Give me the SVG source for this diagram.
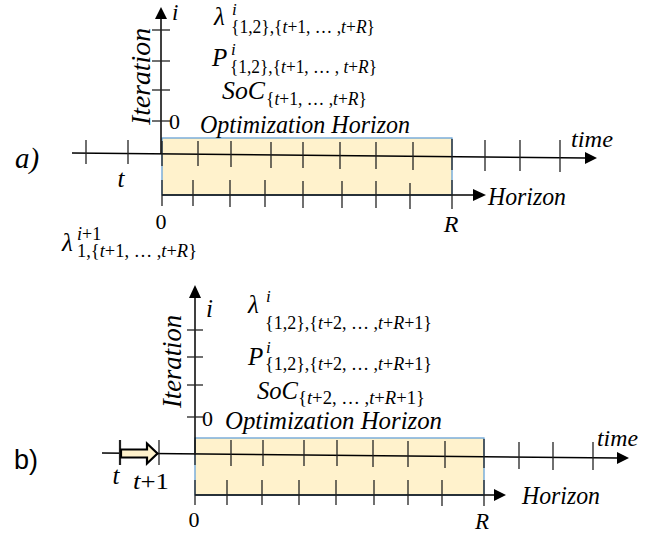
<svg xmlns="http://www.w3.org/2000/svg" width="664" height="535" viewBox="0 0 664 535">
<style>
text{font-family:"Liberation Serif","DejaVu Serif",serif;fill:#000}
.it{font-style:italic}
.big{font-size:25px}
.sub{font-size:18px}
.sup{font-size:17px;font-style:italic}
.lbl{font-size:26px;font-style:italic}
.num{font-size:22px}
.rect{fill:#FFF2CC;stroke:#5B9BD5;stroke-width:1.2}
.axis{stroke:#000;stroke-width:1.5;fill:none}
.tick{stroke:#222;stroke-width:1.3}
.head{fill:#000}
</style>

<!-- Panel a -->
<g id="panel-a">
  <rect id="horizon-box-a" class="rect" x="162" y="138" width="290" height="57"/>
  <g id="connectors-a">
    <line class="axis" x1="161" y1="18" x2="161" y2="154"/>
    <polygon class="head" points="161,7 155,19 167,19"/>
    <line class="axis" x1="72" y1="153" x2="586" y2="158"/>
    <polygon class="head" points="597,158 585,152 585,164"/>
    <line class="axis" x1="162" y1="195" x2="474" y2="195"/>
    <polygon class="head" points="486,195 473,189 473,201"/>
    <g class="tick">
      <line x1="152" y1="30" x2="170" y2="30"/>
      <line x1="152" y1="61" x2="170" y2="61"/>
      <line x1="152" y1="90" x2="170" y2="90"/>
      <line x1="152" y1="121" x2="170" y2="121"/>
      <line x1="86" y1="140" x2="86" y2="164"/>
      <line x1="128" y1="140" x2="128" y2="164"/>
      <line x1="162" y1="141" x2="162" y2="166"/>
      <line x1="198" y1="141" x2="198" y2="166"/>
      <line x1="231" y1="141" x2="231" y2="167"/>
      <line x1="271" y1="142" x2="271" y2="168"/>
      <line x1="303" y1="142" x2="303" y2="168"/>
      <line x1="340" y1="142" x2="340" y2="169"/>
      <line x1="376" y1="142" x2="376" y2="169"/>
      <line x1="413" y1="142" x2="413" y2="170"/>
      <line x1="452" y1="139" x2="452" y2="170"/>
      <line x1="485" y1="140" x2="485" y2="171"/>
      <line x1="520" y1="140" x2="520" y2="171"/>
      <line x1="560" y1="140" x2="560" y2="172"/>
      <line x1="162" y1="180" x2="162" y2="206"/>
      <line x1="193" y1="180" x2="193" y2="206"/>
      <line x1="230" y1="180" x2="230" y2="207"/>
      <line x1="265" y1="180" x2="265" y2="207"/>
      <line x1="303" y1="181" x2="303" y2="208"/>
      <line x1="342" y1="181" x2="342" y2="208"/>
      <line x1="376" y1="181" x2="376" y2="208"/>
      <line x1="410" y1="183" x2="410" y2="209"/>
      <line x1="452" y1="180" x2="452" y2="209"/>
    </g>
  </g>
  <text class="it" x="15" y="168" font-size="29">a)</text>
  <text class="it" x="172" y="20" font-size="23">i</text>
  <text class="num" x="169" y="129">0</text>
  <text class="it" transform="translate(150,125) rotate(-90)" font-size="27" textLength="97" lengthAdjust="spacingAndGlyphs">Iteration</text>
  <text class="lbl" x="200" y="133" textLength="210" lengthAdjust="spacingAndGlyphs">Optimization Horizon</text>
  <text class="it" x="571" y="147" font-size="24" textLength="42" lengthAdjust="spacingAndGlyphs">time</text>
  <text class="lbl" x="488" y="205" textLength="78" lengthAdjust="spacingAndGlyphs">Horizon</text>
  <text class="num" x="161" y="229" text-anchor="middle">0</text>
  <text class="it" x="451" y="232" text-anchor="middle" font-size="24">R</text>
  <text class="it big" x="121" y="187" text-anchor="middle">t</text>
  <!-- formulas -->
  <text class="it big" x="214" y="25">λ</text>
  <text class="sup" x="232" y="15">i</text>
  <text class="sub" x="231" y="33" textLength="144" lengthAdjust="spacingAndGlyphs">{1,2},{<tspan class="it">t</tspan>+1, … ,<tspan class="it">t</tspan>+<tspan class="it">R</tspan>}</text>
  <text class="it big" x="212" y="66">P</text>
  <text class="sup" x="231" y="55">i</text>
  <text class="sub" x="230" y="73" textLength="147" lengthAdjust="spacingAndGlyphs">{1,2},{<tspan class="it">t</tspan>+1, … , <tspan class="it">t</tspan>+<tspan class="it">R</tspan>}</text>
  <text class="it big" x="222" y="99" textLength="43" lengthAdjust="spacingAndGlyphs">SoC</text>
  <text class="sub" x="266" y="105" textLength="101" lengthAdjust="spacingAndGlyphs">{<tspan class="it">t</tspan>+1, … ,<tspan class="it">t</tspan>+<tspan class="it">R</tspan>}</text>
  <text class="it big" x="62" y="251">λ</text>
  <text class="sub" x="77" y="240"><tspan class="it">i</tspan>+1</text>
  <text class="sub" x="77" y="257" textLength="120" lengthAdjust="spacingAndGlyphs">1,{<tspan class="it">t</tspan>+1, … ,<tspan class="it">t</tspan>+<tspan class="it">R</tspan>}</text>
</g>

<!-- Panel b -->
<g id="panel-b">
  <rect id="horizon-box-b" class="rect" x="195" y="438" width="289" height="57"/>
  <g id="connectors-b">
    <line class="axis" x1="195" y1="297" x2="195" y2="455"/>
    <polygon class="head" points="195,285 189,298 201,298"/>
    <line class="axis" x1="102" y1="453" x2="618" y2="458"/>
    <polygon class="head" points="629,458 617,452 617,464"/>
    <line class="axis" x1="195" y1="495" x2="494" y2="495"/>
    <polygon class="head" points="506,495 494,489 494,501"/>
    <g class="tick">
      <line x1="187" y1="330" x2="203" y2="330"/>
      <line x1="187" y1="357" x2="203" y2="357"/>
      <line x1="187" y1="385" x2="203" y2="385"/>
      <line x1="187" y1="417" x2="203" y2="417"/>
      <line x1="120" y1="440" x2="120" y2="465" stroke-width="2.2"/>
      <line x1="159" y1="440" x2="159" y2="465"/>
      <line x1="195" y1="440" x2="195" y2="465"/>
      <line x1="231" y1="440" x2="231" y2="466"/>
      <line x1="263" y1="440" x2="263" y2="466"/>
      <line x1="304" y1="440" x2="304" y2="466"/>
      <line x1="337" y1="440" x2="337" y2="466"/>
      <line x1="373" y1="440" x2="373" y2="467"/>
      <line x1="408" y1="441" x2="408" y2="467"/>
      <line x1="445" y1="441" x2="445" y2="468"/>
      <line x1="484" y1="439" x2="484" y2="468"/>
      <line x1="519" y1="442" x2="519" y2="469"/>
      <line x1="553" y1="442" x2="553" y2="470"/>
      <line x1="593" y1="442" x2="593" y2="470"/>
      <line x1="195" y1="480" x2="195" y2="505"/>
      <line x1="227" y1="480" x2="227" y2="505"/>
      <line x1="262" y1="480" x2="262" y2="505"/>
      <line x1="299" y1="480" x2="299" y2="505"/>
      <line x1="336" y1="480" x2="336" y2="505"/>
      <line x1="374" y1="480" x2="374" y2="505"/>
      <line x1="408" y1="480" x2="408" y2="505"/>
      <line x1="442" y1="480" x2="442" y2="506"/>
      <line x1="484" y1="480" x2="484" y2="506"/>
    </g>
    <polygon id="shift-arrow" points="121,449.5 147,449.5 147,443.5 157.5,453.5 147,463.5 147,457.5 121,457.5" fill="#FFF2CC" stroke="#000" stroke-width="2.2" stroke-linejoin="miter"/>
  </g>
  <text x="14" y="469" font-size="27" style="font-family:'Liberation Sans',sans-serif">b)</text>
  <text class="it" x="206" y="317" font-size="25">i</text>
  <text class="num" x="202" y="426">0</text>
  <text class="it" transform="translate(181,408) rotate(-90)" font-size="27" textLength="93" lengthAdjust="spacingAndGlyphs">Iteration</text>
  <text class="lbl" x="225" y="429" textLength="217" lengthAdjust="spacingAndGlyphs">Optimization Horizon</text>
  <text class="it" x="597" y="446" font-size="24" textLength="41" lengthAdjust="spacingAndGlyphs">time</text>
  <text class="lbl" x="522" y="504" textLength="78" lengthAdjust="spacingAndGlyphs">Horizon</text>
  <text class="num" x="194" y="527" text-anchor="middle">0</text>
  <text class="it" x="482" y="529" text-anchor="middle" font-size="23">R</text>
  <text class="it big" x="116" y="484" text-anchor="middle">t</text>
  <text x="133" y="489" font-size="24" textLength="36" lengthAdjust="spacingAndGlyphs"><tspan class="it">t</tspan>+1</text>
  <!-- formulas -->
  <text class="it big" x="248" y="313">λ</text>
  <text class="sup" x="266" y="302">i</text>
  <text class="sub" x="265" y="329" textLength="167" lengthAdjust="spacingAndGlyphs">{1,2},{<tspan class="it">t</tspan>+2, … ,<tspan class="it">t</tspan>+<tspan class="it">R</tspan>+1}</text>
  <text class="it big" x="248" y="365">P</text>
  <text class="sup" x="266" y="353">i</text>
  <text class="sub" x="265" y="370" textLength="167" lengthAdjust="spacingAndGlyphs">{1,2},{<tspan class="it">t</tspan>+2, … ,<tspan class="it">t</tspan>+<tspan class="it">R</tspan>+1}</text>
  <text class="it big" x="257" y="399" textLength="41" lengthAdjust="spacingAndGlyphs">SoC</text>
  <text class="sub" x="298" y="404" textLength="127" lengthAdjust="spacingAndGlyphs">{<tspan class="it">t</tspan>+2, … ,<tspan class="it">t</tspan>+<tspan class="it">R</tspan>+1}</text>
</g>
</svg>
